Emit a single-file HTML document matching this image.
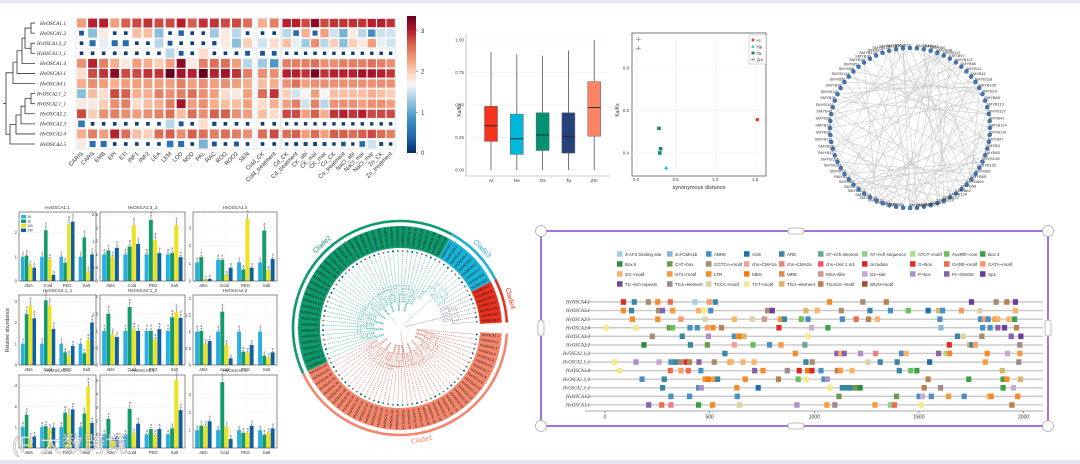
<!DOCTYPE html>
<html><head><meta charset="utf-8">
<style>
html,body{margin:0;padding:0;background:#fff;}
svg{display:block;font-family:"Liberation Sans","Noto Sans CJK SC",sans-serif;}
.it{font-family:"Liberation Serif",serif;font-style:italic;}
</style></head>
<body>
<svg id="fig" width="1080" height="464" viewBox="0 0 1080 464" xmlns="http://www.w3.org/2000/svg">
<rect x="0" y="0" width="1080" height="3" fill="#e6e7ee"/>
<rect x="0" y="460" width="1080" height="4" fill="#e6e7ee"/>
<g id="heat"></g>
<g id="box"></g>
<g id="scat"></g>
<g id="net"></g>
<g id="bars"></g>
<g id="tree"></g>
<g id="motif"></g>
<text x="12" y="452" font-size="22" fill="#fff" stroke="#999" stroke-width="0.6" opacity="0.8">(P 大数跨境</text>
</svg>
<script>
const NS="http://www.w3.org/2000/svg";
function mk(p,t,a){const e=document.createElementNS(NS,t);for(const k in a)e.setAttribute(k,a[k]);p.appendChild(e);return e;}
function tx(p,x,y,s,a){const e=mk(p,'text',Object.assign({x:x,y:y},a||{}));e.textContent=s;return e;}

/* ================= HEATMAP ================= */
const heatRows=["HvOSCA1.1","HvOSCA1.2","HvOSCA1.3_2","HvOSCA1.3_1","HvOSCA1.4","HvOSCA3.1","HvOSCA4.1","HvOSCA2.1_2","HvOSCA2.1_1","HvOSCA2.2","HvOSCA2.3","HvOSCA2.4","HvOSCA2.5"];
const heatCols=["CARIS","CARS","EMB","EPI","ETI","INF1","INF2","LEA","LEM","LOD","NOD","PAL","RAC","ROO","ROO2","SEN","Cold_CK","Cold_treatment","Cd_CK","Cd_treatment","CK_abi","CK_mai","CK_mar","Cu_CK","Cu_treatment","NaCl_abi","NaCl_mai","NaCl_mar","Zn_CK","Zn_treatment"];
const heatVals=[
[2.3,3,3,2.3,2.7,2.8,2.9,2.8,2.8,3,2.7,2.9,2.9,2.8,2.8,2.6,2.2,2.5,3,3,2.8,3.2,2.8,2.9,2.9,2.9,2.9,3,3,2.9],
[0.3,1.2,1.8,0.1,0.1,2.1,2.1,1.2,0.1,0.4,0.1,0.1,1.3,1.8,1.4,0.1,0.1,0.1,1.4,0.5,2.2,0.4,2.3,1.5,1.1,1.8,1.4,0.8,1.5,1.5],
[0.1,0.5,1.6,0.5,0.5,0.1,0.1,1.4,0.3,0.1,0.1,0.1,0.2,1.8,1.2,2,1.5,1.9,2.1,1.6,1.3,2.4,1.4,2.0,1.2,2.0,1.8,2.3,1.6,1.5],
[0.1,0.1,0.1,0.1,0.1,0.1,0.1,0.1,1.4,0.3,0.1,1.9,0.1,0.1,0.1,0.3,0.3,0.3,0.1,0.1,0.1,0.1,0.1,0.1,0.1,0.1,0.1,0.1,0.1,0.1],
[2.4,3,2.5,2.2,1.8,2.3,2.2,2.0,2.3,3.2,1.8,2.5,2.6,2.6,2.3,1.4,1.3,0.9,2.5,2.5,2.5,2.6,2.4,2.4,2.5,2.5,2.5,2.6,2.5,2.4],
[1.9,2.8,2.9,3.2,2.8,2.8,2.9,2.9,3.4,3.1,3.0,3.4,3.0,3.1,2.9,2.5,2.4,2.4,3.0,3.0,2.9,3.3,2.9,3.0,3.0,3.0,3.1,3.1,3.0,2.9],
[2.2,2.4,2.3,2.2,2.3,2.3,2.3,2.3,2.3,2.5,2.3,2.4,2.3,2.4,2.3,2.2,2.1,2.2,2.4,2.6,2.3,2.4,2.4,2.4,2.4,2.4,2.4,2.4,2.4,2.4],
[1.2,2.1,1.9,2.8,2.7,2.2,2.2,2.5,2.4,2.5,2.6,2.4,2.3,1.9,1.8,2.3,2.6,2.9,2.0,1.5,1.7,2.3,1.7,2.1,2.1,2.1,2.1,2.2,2.1,2.0],
[1.8,1.8,2.0,2.4,2.5,1.9,2.1,2.2,2.5,3.1,2.3,2.4,2.2,2.1,2.1,2.3,1.9,2.2,2.3,2.5,1.5,2.5,1.4,2.4,2.4,2.4,2.3,2.4,2.4,2.3],
[2.8,2.0,2.4,2.5,2.4,2.3,2.4,2.5,2.6,2.1,2.6,2.4,2.7,2.7,2.4,2.3,2.1,1.9,2.8,2.8,2.3,2.7,2.2,2.9,3.0,2.9,3.0,2.8,2.8,2.8],
[0.6,0.1,0.1,0.1,0.1,0.1,0.1,0.1,1.4,0.3,0.1,1.9,0.2,0.1,0.1,0.1,0.1,0.1,0.1,0.1,0.1,0.1,0.1,0.1,0.1,0.1,0.1,0.1,0.1,0.1],
[2.2,2.5,2.3,3.0,2.6,2.1,2.0,2.6,2.7,2.4,2.7,2.6,2.5,2.6,2.5,2.4,2.6,2.8,2.6,2.7,2.3,2.6,2.3,2.7,2.7,2.6,2.7,2.8,2.6,2.5],
[1.8,0.5,0.5,0.1,0.1,0.1,0.1,0.1,0.6,0.5,0.1,1.1,0.3,0.1,0.3,0.1,0.1,0.1,0.1,0.2,0.2,0.2,0.2,0.1,0.3,0.1,0.5,1.5,0.2,0.1]];
const cbTicks=[0,1,2,3];
const dendroNodes=[[31,0,1],[31,2,3],[25,'n0','n1'],[22,'n2',4],[17,'n3',5],[13,'n4',6],[31,7,8],[25,'n6',9],[21,'n7',10],[16,'n8',11],[10,'n9',12],[6,'n5','n10']];
const rdStops=[[0,"#053061"],[.12,"#2166ac"],[.25,"#4393c3"],[.37,"#92c5de"],[.45,"#d1e5f0"],[.5,"#f7f7f7"],[.57,"#fddbc7"],[.67,"#f4a582"],[.8,"#d6604d"],[.9,"#b2182b"],[1,"#67001f"]];
function hx(c){return [1,3,5].map(i=>parseInt(c.substr(i,2),16));}
function rdbu(v){let t=Math.max(0,Math.min(1,v/3.37));for(let i=1;i<rdStops.length;i++){if(t<=rdStops[i][0]){const a=rdStops[i-1],b=rdStops[i];const f=(t-a[0])/(b[0]-a[0]);const A=hx(a[1]),B=hx(b[1]);return 'rgb('+A.map((x,k)=>Math.round(x+(B[k]-x)*f)).join(',')+')';}}return rdStops[rdStops.length-1][1];}
(function(){
 const g=document.getElementById('heat');
 const y0=18,rh=10.08;
 function colX(j){ if(j<16) return 76+11.07*j+5.5; if(j<18) return 257+11.7*(j-16)+5.5; return 282+9.45*(j-18)+4.7; }
 function colW(j){ return j<16?11.07:(j<18?11.7:9.45); }
 mk(g,'rect',{x:76,y:y0,width:177+1,height:rh*13,fill:'#fff',stroke:'#ddd','stroke-width':0.6});
 mk(g,'rect',{x:257,y:y0,width:23.4,height:rh*13,fill:'#fff',stroke:'#ddd','stroke-width':0.6});
 mk(g,'rect',{x:282,y:y0,width:113.4,height:rh*13,fill:'#fff',stroke:'#ddd','stroke-width':0.6});
 heatVals.forEach((row,i)=>{
  const cy=y0+rh*i+rh/2;
  const ln=mk(g,'line',{x1:76,x2:395.4,y1:y0+rh*(i+1),y2:y0+rh*(i+1),stroke:'#e2e2e2','stroke-width':0.5});
  
  
  const lb=tx(g,66,cy+1.8,heatRows[i],{'font-size':5.4,'text-anchor':'end','class':'it',fill:'#222',textLength:heatRows[i].length>9?29:26,lengthAdjust:'spacingAndGlyphs'});
  
  
  row.forEach((v,j)=>{
   const w=colW(j);const cx=colX(j);
   const f=Math.max(0.34,Math.min(0.88,0.3+v*0.6));
   const s=Math.min(w,rh)*f;
   const r=mk(g,'rect',{x:cx-s/2,y:cy-s/2,width:s,height:s,fill:rdbu(v)});
   
   
  });
 });
 heatCols.forEach((c,j)=>{
  const cx=colX(j);
  const t=tx(g,cx+2,154,c,{'font-size':5.8,'text-anchor':'end',fill:'#333',transform:'rotate(-45 '+(cx+2)+' 154)'});
  
  
 });
 const pos={};
 heatRows.forEach((r,i)=>{pos[i]={x:35,y:y0+rh*i+rh/2};});
 dendroNodes.forEach((n,k)=>{
  const a=pos[n[1]], b=pos[n[2]];
  const x=n[0];
  mk(g,'path',{d:`M${a.x},${a.y}H${x}V${b.y}H${b.x}`,fill:'none',stroke:'#333','stroke-width':0.8});
  pos['n'+k]={x:x,y:(a.y+b.y)/2};
 });
 const root=pos['n11'];mk(g,'line',{x1:root.x,x2:3,y1:root.y,y2:root.y,stroke:'#333','stroke-width':0.8});
 const defs=mk(g,'defs',{});const lg=mk(defs,'linearGradient',{id:'cbg',x1:0,y1:1,x2:0,y2:0});
 rdStops.forEach(s=>mk(lg,'stop',{offset:s[0],'stop-color':s[1]}));
 const cb=mk(g,'rect',{x:407,y:16,width:9,height:137,fill:'url(#cbg)'});
 
 
 cbTicks.forEach(t=>{const y=153-t*40.7;mk(g,'line',{x1:416,x2:418,y1:y,y2:y,stroke:'#555','stroke-width':0.5});
  const l=tx(g,421,y+2,String(t),{'font-size':6,fill:'#333'});
  
  });
})();

/* ================= BOXPLOT ================= */
const boxCats=["Al","He","Os","Ta","Zm"];
const boxMin=[0,0,0,0,0];
const boxQ1=[0.22,0.12,0.15,0.13,0.26];
const boxMed=[0.34,0.24,0.27,0.26,0.48];
const boxQ3=[0.49,0.43,0.44,0.44,0.68];
const boxMax=[0.91,0.89,0.88,0.92,1.0];
const boxColors=["#f5331f","#00b7d9","#009272","#26427a","#fc8466"];
const boxTicks=[0,0.25,0.5,0.75,1.0];
(function(){
 const g=document.getElementById('box');
 const y=v=>170-v*130, x=i=>491+i*25.8;
 boxTicks.forEach(t=>{mk(g,'line',{x1:467,x2:608,y1:y(t),y2:y(t),stroke:'#eee','stroke-width':0.6});
  const l=tx(g,464,y(t)+1.5,t.toFixed(2),{'font-size':4.5,'text-anchor':'end',fill:'#444'});
  
  });
 mk(g,'line',{x1:466,x2:466,y1:34,y2:176,stroke:'#999','stroke-width':0.6});
 mk(g,'line',{x1:466,x2:610,y1:176,y2:176,stroke:'#999','stroke-width':0.6});
 tx(g,461,110,'Ka/Ks',{'font-size':5,'text-anchor':'middle',fill:'#333',transform:'rotate(-90 461 110)'});
 boxCats.forEach((c,i)=>{
  const cx=x(i);
  mk(g,'line',{x1:cx,x2:cx,y1:y(boxMin[i]),y2:y(boxMax[i]),stroke:'#555','stroke-width':0.8});
  const r=mk(g,'rect',{x:cx-6.5,y:y(boxQ3[i]),width:13,height:y(boxQ1[i])-y(boxQ3[i]),fill:boxColors[i],stroke:'#666','stroke-width':0.5});
  
  
  mk(g,'line',{x1:cx-6.5,x2:cx+6.5,y1:y(boxMed[i]),y2:y(boxMed[i]),stroke:'#222','stroke-width':0.9});
  const l=tx(g,cx,182,c,{'font-size':4.8,'text-anchor':'middle',fill:'#333'});
  
  
 });
})();

/* ================= SCATTER ================= */
const scSpecies=["Al","He","Ta","Zm"];
const scColors=["#e3412b","#1fb8c7","#0e8f6b","#888"];
const scX=[1.53,0.38,0.29,0.31,0.30,0.03,0.03];
const scY=[0.557,0.33,0.516,0.42,0.40,0.935,0.893];
const scGroup=[0,1,2,2,2,3,3];
const scXTicks=[0,0.5,1.0,1.5];
const scYTicks=[0.4,0.6,0.8];
(function(){
 const g=document.getElementById('scat');
 const x=v=>636+v*79.3, y=v=>153-(v-0.4)*212.5;
 mk(g,'rect',{x:632,y:33,width:134,height:143,fill:'#fff',stroke:'#555','stroke-width':0.8});
 scXTicks.forEach(t=>{mk(g,'line',{x1:x(t),x2:x(t),y1:33,y2:176,stroke:'#eee','stroke-width':0.6});
  const l=tx(g,x(t),181,t.toFixed(1),{'font-size':4.5,'text-anchor':'middle',fill:'#444'});
  
  });
 scYTicks.forEach(t=>{mk(g,'line',{x1:632,x2:766,y1:y(t),y2:y(t),stroke:'#eee','stroke-width':0.6});
  const l=tx(g,629,y(t)+1.5,t.toFixed(1),{'font-size':4.5,'text-anchor':'end',fill:'#444'});
  
  });
 tx(g,699,189,'synonymous distance',{'font-size':5.5,'text-anchor':'middle',fill:'#333'});
 tx(g,619,110,'Ka/Ks',{'font-size':5,'text-anchor':'middle',fill:'#333',transform:'rotate(-90 619 110)'});
 function mark(gr,cx,cy,s){
  const c=scColors[gr];let e;
  if(gr==0)e=mk(g,'circle',{cx:cx,cy:cy,r:s,fill:c});
  else if(gr==1)e=mk(g,'polygon',{points:`${cx},${cy-s*1.2} ${cx-s*1.1},${cy+s*0.8} ${cx+s*1.1},${cy+s*0.8}`,fill:c});
  else if(gr==2)e=mk(g,'rect',{x:cx-s,y:cy-s,width:2*s,height:2*s,fill:c});
  else e=mk(g,'path',{d:`M${cx-s*1.3},${cy}H${cx+s*1.3}M${cx},${cy-s*1.3}V${cy+s*1.3}`,stroke:c,'stroke-width':0.7});
  return e;}
 scX.forEach((v,i)=>{const e=mark(scGroup[i],x(v),y(scY[i]),1.8);
  
  });
 mk(g,'rect',{x:749,y:35,width:17,height:29,fill:'#fff',stroke:'#999','stroke-width':0.4});
 scSpecies.forEach((s,i)=>{mark(i,753,40+i*6.5,1.5);
  const l=tx(g,756.5,41.8+i*6.5,s,{'font-size':4.5,fill:'#333'});
  
  });
})();

/* ================= NETWORK ================= */
const netNodes=[21,122,129,109,23,46,81,60,48,117,97,121,60,14,11,118,135,10,69,113,127,41,114,119,97,3,83,128,132,59,55,600,58,62,124,37,110,96,63,56,50,61,86,52,33,105,15,112,75,80,22,72,145,154,127,28,111,30,19,66,45,103,20,115,99,56,144,68,51,40,30,125];
const netEdges=[[8,20],[8,30],[8,40],[8,45],[8,50],[8,55],[8,60],[8,35],[8,25],[8,15],[16,40],[16,50],[16,55],[16,60],[16,65],[16,45],[16,30],[16,5],[3,33],[3,40],[3,50],[5,28],[6,36],[10,48],[12,52],[14,44],[18,58],[20,62],[22,66],[24,70],[26,0],[28,50],[30,60],[32,2],[34,6],[36,10],[38,14],[40,18],[42,22],[44,26],[46,2],[48,30],[50,34],[52,38],[54,42],[56,46],[58,4],[60,8],[62,12],[64,16],[66,20],[68,24],[70,28],[1,40],[7,47],[9,51],[11,55],[13,59],[15,63],[17,67],[19,31],[21,35],[23,39],[25,45],[27,49],[29,53],[31,57],[33,61],[35,65],[37,69],[39,3],[41,7],[43,11],[45,15],[47,19],[49,23],[51,27],[53,1],[55,33],[57,37],[59,41],[61,9],[63,27],[65,35],[67,41],[69,45],[2,28],[4,31],[12,40],[22,48],[42,60],[36,58]];
(function(){
 const g=document.getElementById('net');
 const cx=910,cy=128,R=80,n=netNodes.length;
 const P=netNodes.map((v,i)=>{const a=-Math.PI/2-0.35+i*2*Math.PI/n;return {x:cx+R*Math.cos(a),y:cy+R*Math.sin(a),a:a};});
 netEdges.forEach(e=>{const a=P[e[0]],b=P[e[1]];
  const l=mk(g,'line',{x1:a.x,y1:a.y,x2:b.x,y2:b.y,stroke:'#c4c4c4','stroke-width':0.5});
  
  });
 P.forEach((p,i)=>{
  const c=mk(g,'circle',{cx:p.x,cy:p.y,r:2.3,fill:'#4474b0'});
  
  
  const right=Math.cos(p.a)>0;
  const t=tx(g,p.x+(right?-1:1)*1,p.y-1.5,'SMYB'+netNodes[i],{'font-size':4,fill:'#333','text-anchor':right?'start':'end'});
  
  
 });
})();

/* ================= BAR PANELS ================= */
const barTitles=["HvOSCA1.1","HvOSCA1.3_2","HvOSCA1.4","HvOSCA2.1_1","HvOSCA2.1_2","HvOSCA2.2","HvOSCA2.4","HvOSCA3.1","HvOSCA4.1"];
const barGroups=["ABA","Cold","PEG","Salt"];
const barSeries=["0h","3h","12h","24h"];
const barColors=["#29aee6","#139b6b","#eee21c","#0f5fa3"];
const barVals=[
[[1,1.05,0.65,0.55],[1,2.1,0.9,0.25],[1,0.75,2.35,2.45],[1,1.8,0.4,1.1]],
[[1,1.15,0.9,1.25],[1,1.3,2.1,1.4],[1,2.3,1.55,1.05],[1,1.05,2.1,0.9]],
[[1.05,1.35,0.1,0.12],[1.2,1.2,0.35,0.75],[1.05,0.65,3.5,0.75],[1.05,2.85,0.6,1.25]],
[[1,2.4,2.8,2.2],[1,3.05,2.8,1.7],[1,0.6,0.45,0.9],[1,0.55,1.2,2.0]],
[[1,1.5,0.9,0.82],[1,1.7,1.05,1.0],[1,1.0,0.75,1.05],[1,1.4,1.55,1.38]],
[[1,1.02,0.63,0.72],[1,1.6,0.6,0.2],[1,0.4,0.38,0.6],[1,0.28,0.22,0.38]],
[[1,1.6,0.5,0.55],[1,1.05,0.9,0.98],[1,1.7,1.6,1.85],[1,1.65,2.95,1.2]],
[[1,2.15,0.5,0.8],[1,2.9,1.1,1.8],[1,1.4,1.0,1.4],[1,1.45,5.0,2.8]],
[[1,1.25,1.25,1.5],[1,3.7,1.2,0.5],[1,0.85,0.85,1.25],[1,0.75,0.85,1.1]]];
const barMax=[2.85,2.6,3.9,3.3,2.05,2.1,3.5,5.4,4.1];
const barTicks=[[0,1,2],[0,0.5,1,1.5,2,2.5],[0,1,2,3],[0,1,2,3],[0,0.5,1,1.5,2],[0,0.5,1,1.5,2],[1,2,3],[1,2,3,4,5],[1,2,3]];
(function(){
 const g=document.getElementById('bars');
 const cols=[[19,96],[100,185],[193,277]], rows=[[212,281],[295,365],[375,448]];
 barTitles.forEach((t,p)=>{
  const X=cols[p%3],Y=rows[Math.floor(p/3)];
  const w=X[1]-X[0],h=Y[1]-Y[0];
  const y=v=>Y[1]-v/barMax[p]*h;
  const pg=mk(g,'g',{});
  
  
  barTicks[p].forEach(tk=>{mk(pg,'line',{x1:X[0],x2:X[1],y1:y(tk),y2:y(tk),stroke:'#ececec','stroke-width':0.5});
   const l=tx(pg,X[0]-2,y(tk)+1.5,String(tk),{'font-size':4.3,'text-anchor':'end',fill:'#444'});
   
   });
  const gw=w/4;
  barGroups.forEach((gr,k)=>{
   const gx=X[0]+gw*k+gw*0.1;const bw=gw*0.8/4;
   mk(pg,'line',{x1:gx+gw*0.4,x2:gx+gw*0.4,y1:Y[0],y2:Y[1],stroke:'#f0f0f0','stroke-width':0.5});
   barVals[p][k].forEach((v,s)=>{
    const r=mk(pg,'rect',{x:gx+bw*s,y:y(v),width:bw-0.3,height:Y[1]-y(v),fill:barColors[s]});
    
    
    const bx=gx+bw*s+bw/2, e=v*0.08;
    mk(pg,'path',{d:`M${bx},${y(v)}V${y(v+e)}M${bx-0.8},${y(v+e)}H${bx+0.8}`,stroke:'#333','stroke-width':0.4});
    tx(pg,bx,y(v+e)-1.5,'a',{'font-size':3.2,'text-anchor':'middle',fill:'#444'});
   });
   const l=tx(pg,gx+gw*0.4,Y[1]+6,gr,{'font-size':4.3,'text-anchor':'middle',fill:'#333'});
   
   
  });
  mk(pg,'rect',{x:X[0],y:Y[0],width:w,height:h,fill:'none',stroke:'#444','stroke-width':0.6});
  const tt=tx(pg,(X[0]+X[1])/2,Y[0]-3,t,{'font-size':4.5,'text-anchor':'middle',fill:'#333'});
  
  
 });
 barSeries.forEach((s,i)=>{
  const r=mk(g,'rect',{x:21,y:215+i*4.5,width:5,height:3.5,fill:barColors[i]});
  
  
  tx(g,27.5,218+i*4.5,s,{'font-size':3.3,fill:'#333'});
 });
 tx(g,9,330,'Relative abundance',{'font-size':5,'text-anchor':'middle',fill:'#333',transform:'rotate(-90 9 330)'});
})();

/* ================= CIRCULAR TREE ================= */
const cladeNames=["Clade1","Clade2","Clade3","Clade4"];
const cladeStart=[3,155,299,333];
const cladeEnd=[155,299,333,357];
const cladeLeaves=[42,40,9,7];
const cladeColors=["#f4866c","#0f9a6e","#1ab2d6","#e8321f"];
const cladeTreeColors=["#d9543c","#2aa79a","#2aa79a","#7a6a8a"];
const tipColors=["#1b3f8a","#12a0a0","#e05a3a","#0f9a6e"];
(function(){
 const g=document.getElementById('tree');
 const cx=400,cy=328;
 const pt=(r,a)=>{const t=a*Math.PI/180;return [cx+r*Math.cos(t),cy+r*Math.sin(t)];};
 function arcPath(r1,r2,a1,a2){const p1=pt(r2,a1),p2=pt(r2,a2),p3=pt(r1,a2),p4=pt(r1,a1);const lg=(a2-a1)>180?1:0;
  return `M${p1}A${r2},${r2} 0 ${lg} 1 ${p2}L${p3}A${r1},${r1} 0 ${lg} 0 ${p4}Z`;}
 function arcLine(r,a1,a2){const p1=pt(r,a1),p2=pt(r,a2);const lg=(a2-a1)>180?1:0;return `M${p1}A${r},${r} 0 ${lg} 1 ${p2}`;}
 let leafIdx=0;
 cladeNames.forEach((c,k)=>{
  const a1=cladeStart[k],a2=cladeEnd[k],n=cladeLeaves[k];
  const band=mk(g,'path',{d:arcPath(80,102,a1,a2),fill:cladeColors[k]});
  
  
  mk(g,'path',{d:arcLine(107,a1,a2),fill:'none',stroke:cladeColors[k],'stroke-width':2.6});
  const step=(a2-a1)/n;const angs=[];
  for(let i=0;i<n;i++){const a=a1+step*(i+0.5);angs.push(a);
   const lp=pt(82,a);
   const t=tx(g,lp[0],lp[1],'HvOSCA'+(k+1)+'.'+(i+1),{'font-size':3.2,fill:'#111','dominant-baseline':'middle',transform:`rotate(${(a>90&&a<270)?a+180:a} ${lp[0]} ${lp[1]})`,'text-anchor':(a>90&&a<270)?'end':'start'});
   
   
   const d=pt(77,a);mk(g,'circle',{cx:d[0],cy:d[1],r:1,fill:tipColors[(leafIdx++)%4]});
  }
  function build(lo,hi,depth){
   if(lo===hi) return {a:angs[lo],r:75};
   const mid=Math.floor((lo+hi)/2);
   const A=build(lo,mid,depth+1),B=build(mid+1,hi,depth+1);
   const r=Math.max(12,72-depth*9-(hi-lo)*0.6);
   [A,B].forEach(ch=>{const p1=pt(r,ch.a),p2=pt(ch.r,ch.a);mk(g,'line',{x1:p1[0],y1:p1[1],x2:p2[0],y2:p2[1],stroke:cladeTreeColors[k],'stroke-width':0.5,'stroke-dasharray':'1.2,0.8'});});
   mk(g,'path',{d:arcLine(r,A.a,B.a),fill:'none',stroke:cladeTreeColors[k],'stroke-width':0.5,'stroke-dasharray':'1.2,0.8'});
   return {a:(A.a+B.a)/2,r:r};
  }
  const top=build(0,n-1,1);
  const p1=pt(5,top.a),p2=pt(top.r,top.a);
  mk(g,'line',{x1:p1[0],y1:p1[1],x2:p2[0],y2:p2[1],stroke:cladeTreeColors[k],'stroke-width':0.5,'stroke-dasharray':'1.2,0.8'});
  const lm=(a1+a2)/2,lp=pt(114,lm);
  const rot=(lm>0&&lm<180)?lm-90:lm+90;
  const lb=tx(g,lp[0],lp[1],c,{'font-size':7,fill:cladeColors[k],'text-anchor':'middle','dominant-baseline':'middle',transform:`rotate(${rot} ${lp[0]} ${lp[1]})`});
  
  
 });
})();

/* ================= MOTIF DIAGRAM ================= */
const motifNames=["3-AF3 binding site","4cl-CMA1b","ABRE","ACE","ARE","AT~rich element","AT~rich sequence","ATCT~motif","AuxRR~core","Box 4","Box II","CAT~box","CGTCA~motif","chs~CMA1a","chs~CMA2a","chs~Unit 1 m1","circadian","G~Box","GARE~motif","GATA~motif","GC~motif","GT1~motif","LTR","MBS","MRE","MSA~like","O2~site","P~box","Pc~CMA2c","Sp1","TC~rich repeats","TCA~element","TCCC~motif","TCT~motif","TGA~element","TGACG~motif","WUN~motif"];
const motifColors=["#a6cee3","#86b6da","#4a8fc3","#1f6fae","#3a86a0","#6aa58f","#96cd8f","#a9dc8b","#6cbd5d","#3aa046","#2e8b3c","#6f9a4e","#a98b6d","#f0a09a","#ec7f7f","#e85a6a","#d62a2a","#e03025","#ee6a4a","#f59a6a","#fbb26a","#fa9a40","#f98a24","#f47a10","#e8894a","#cf9a8a","#c9a9cf","#ae8fc8","#8a62ac","#6a3d9a","#6e4a8a","#a08a8a","#dcd3a5","#f5ea8a","#d9b66a","#b98050","#a0502a"];
const geneNames=["HvOSCA4.1","HvOSCA3.1","HvOSCA2.5","HvOSCA2.4","HvOSCA2.3","HvOSCA2.2","HvOSCA2.1_2","HvOSCA2.1_1","HvOSCA1.4","HvOSCA1.3_2","HvOSCA1.3_1","HvOSCA1.2","HvOSCA1.1"];
const geneMotifPos=[
[88,140,207,252,312,430,498,527,1073,1232,1344,1751,1869,1920,1961],
[88,127,256,275,323,447,476,505,777,799,960,1014,1129,1266,1364,1449,1544,1594,1613,1703,1791,1961],
[131,252,363,478,618,704,761,837,857,938,970,1134,1200,1259,1302,1600,1794,1813,1831,1863,1877,1930,1957],
[6,148,307,323,406,441,489,516,557,831,987,1065,1605,1804,1840,1877,1909,1966],
[226,369,494,618,637,653,664,971,1684,1711,1801,1941,1987],
[186,408,489,618,707,786,841,955,1645,1742,1753,1769,1982],
[573,909,1108,1127,1143,1221,1293,1417,1439,1594,1629,1646,1826,1923,1982],
[46,148,258,315,339,360,387,404,449,522,597,603,659,712,960,990,1256,1315,1396,1551,1817,1977],
[70,312,363,398,458,715,755,871,928,968,989,1032,1110,1124,1180,1406,1461,1490,1898],
[177,283,479,495,522,538,670,829,923,962,1046,1062,1544,1738,1902,1920,1985],
[275,447,460,630,732,1075,1134,1157,1172,1197,1219,1525,1603,1902,1952],
[315,404,632,1118,1393,1501,1517,1559,1641,1716,1836,1845,1972],
[209,271,315,447,514,643,917,1060,1098,1290,1364,1383,1511,1944]];
const geneMotifType=[
[16,4,12,22,18,0,19,4,22,12,35,29,12,35,29],
[22,4,12,28,21,20,33,2,12,29,34,20,12,4,2,8,3,34,2,19,32,20],
[22,22,19,32,20,32,25,21,4,8,2,2,18,35,20,2,2,19,2,21,20,20,9],
[33,33,11,8,2,2,19,22,35,17,26,9,1,2,2,28,29,35],
[12,4,27,2,22,23,34,33,4,32,12,28,29],
[10,4,11,13,8,2,21,5,17,34,4,19,31],
[4,22,28,20,28,27,14,2,20,28,7,22,22,26,21],
[33,27,26,2,4,12,16,35,28,12,21,20,20,20,4,12,32,4,4,3,21,31],
[33,18,19,18,2,28,22,31,16,23,16,2,35,21,20,4,8,9,34],
[2,4,22,23,21,4,22,35,8,33,2,27,35,9,9,22,34],
[4,2,27,22,3,33,4,4,4,11,10,35,31,9,26],
[2,2,2,11,11,2,26,2,21,2,20,22,22],
[28,18,14,9,22,32,27,21,31,21,6,18,33,35]];
const motifTicks=[0,500,1000,1500,2000];
(function(){
 const g=document.getElementById('motif');
 const fr=mk(g,'rect',{x:541,y:231,width:507,height:195,fill:'#fff',stroke:'#8a4fe0','stroke-width':1.6});
 
 
 [[541,231],[1048,231],[541,426],[1048,426]].forEach(p=>{const c=mk(g,'circle',{cx:p[0],cy:p[1],r:5.5,fill:'#fff',stroke:'#aaa','stroke-width':0.8});
  
  });
 [[796,231,16,6],[796,426,16,6],[541,328,6,16],[1048,328,6,16]].forEach(p=>{const c=mk(g,'rect',{x:p[0]-p[2]/2,y:p[1]-p[3]/2,width:p[2],height:p[3],rx:3,fill:'#fff',stroke:'#aaa','stroke-width':0.8});
  
  });
 const colX=[617,667,706,744,779,818,862,910,944,980];
 motifNames.forEach((m,i)=>{
  const cx=colX[i%10],cy=254+Math.floor(i/10)*10;
  const r=mk(g,'rect',{x:cx,y:cy-2.8,width:5.5,height:5.5,fill:motifColors[i]});
  
  
  const t=tx(g,cx+8,cy+1.8,m,{'font-size':4.5,fill:'#333'});
  
  
 });
 const x=v=>605+v*0.2093;
 geneNames.forEach((gn,i)=>{
  const y=302+i*8.58;
  const ln=mk(g,'line',{x1:585,x2:1043,y1:y,y2:y,stroke:'#c8c8c8','stroke-width':1.4});
  
  
  const l=tx(g,590,y+1.6,gn,{'font-size':4.8,'text-anchor':'end','class':'it',fill:'#333',textLength:gn.length>9?27:24,lengthAdjust:'spacingAndGlyphs'});
  
  
  geneMotifPos[i].forEach((p,j)=>{
   const r=mk(g,'rect',{x:x(p)-2.6,y:y-2.8,width:5.2,height:5.6,fill:motifColors[geneMotifType[i][j]]});
   
   
  });
 });
 mk(g,'line',{x1:585,x2:1043,y1:411,y2:411,stroke:'#555','stroke-width':0.6});
 motifTicks.forEach(t=>{mk(g,'line',{x1:x(t),x2:x(t),y1:411,y2:413,stroke:'#555','stroke-width':0.6});
  const l=tx(g,x(t),418.5,String(t),{'font-size':5,'text-anchor':'middle',fill:'#333'});
  
  });
})();
</script>
</body></html>
